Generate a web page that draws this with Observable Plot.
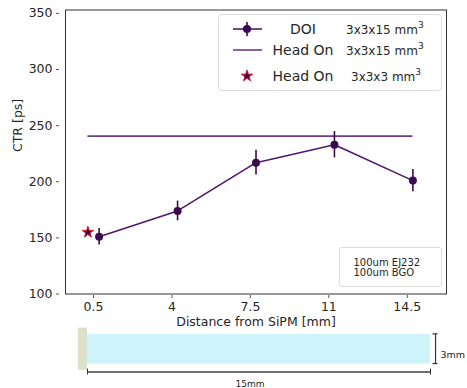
<!DOCTYPE html>
<html><head><meta charset="utf-8">
<script src="https://cdn.jsdelivr.net/npm/d3@7"></script>
<script src="https://cdn.jsdelivr.net/npm/@observablehq/plot@0.6"></script>
<style>
body{margin:0;background:#fff;font-family:"DejaVu Sans",sans-serif;color:#262626;}
#wrap{position:relative;width:467px;height:388px;overflow:hidden;}
#wrap svg.plt{position:absolute;left:0;overflow:visible;}
.lg{position:absolute;box-sizing:border-box;border:1px solid #dcdcdc;border-radius:4px;background:rgba(255,255,255,0.85);}
.abs{position:absolute;white-space:nowrap;transform:translateY(-50%);}
sup{font-size:9px;vertical-align:6px;line-height:0;}
</style></head><body><div id="wrap"></div>
<script>
// ---- data ----
const distance = [0.75, 4.25, 7.75, 11.25, 14.75];
const ctrDOI = [151, 174, 217, 233, 201];
const ctrErr = [7.3, 8.8, 11, 11.7, 10];
const headOnLongX = [0.25, 14.75];
const headOnLongCTR = [240.6];
const headOnShortX = [0.25];
const headOnShortCTR = [155];
const xTicks = [0.5, 4, 7.5, 11, 14.5];
const xTickLabels = ["0.5", "4", "7.5", "11", "14.5"];
const yTicks = [100, 150, 200, 250, 300, 350];
const legendLabels = ["DOI", "Head On", "Head On"];
const legendSizes = ["3x3x15 mm", "3x3x15 mm", "3x3x3 mm"];
const noteLines = ["100um EJ232", "100um BGO"];
const crystalLength = [15];   // mm
const crystalWidth = [3];     // mm
const sipmSize = [0.4, 4.27]; // mm (thickness, height)
const dimLabels = ["15mm", "3mm"];

const cDOIline = "#51176a", cDOIdot = "#3a0a4f", cHead = "#6e3b88", cStar = "#e3101f";

const wrap = document.getElementById("wrap");
const doi = distance.map((d, i) => ({x: d, y: ctrDOI[i], e: ctrErr[i]}));
const head = [{x1: headOnLongX[0], x2: headOnLongX[1], y: headOnLongCTR[0]}];
const star = headOnShortX.map((d, i) => ({x: d, y: headOnShortCTR[i]}));

const main = Plot.plot({
  width: 467, height: 335,
  marginLeft: 65, marginRight: 21, marginTop: 9.5, marginBottom: 41.5,
  style: {fontFamily: "DejaVu Sans", fontSize: "12px", background: "transparent", color: "#262626"},
  x: {domain: [-0.75, 16.25]},
  y: {domain: [100, 353]},
  marks: [
    Plot.axisY({ticks: yTicks, tickSize: 3, tickPadding: 4, dx: -6, label: null, stroke: "#555", fill: "#262626", fontSize: 12.5}),
    Plot.axisX({ticks: xTicks, tickFormat: d => xTickLabels[xTicks.indexOf(d)], tickSize: 3, tickPadding: 4, dy: 1.5, label: null, stroke: "#555", fill: "#262626", fontSize: 12.5}),
    Plot.ruleY(head, {x1: "x1", x2: "x2", y: "y", stroke: cHead, strokeWidth: 1.6}),
    Plot.line(doi, {x: "x", y: "y", stroke: cDOIline, strokeWidth: 1.6}),
    Plot.ruleX(doi, {x: "x", y1: d => d.y - d.e, y2: d => d.y + d.e, stroke: cDOIdot, strokeWidth: 1.6}),
    Plot.dot(doi, {x: "x", y: "y", r: 4, fill: cDOIdot}),
    Plot.dot(star, {x: "x", y: "y", symbol: "star", r: 3.6, fill: cDOIdot, stroke: cStar, strokeWidth: 0.9}),
    Plot.frame({stroke: "#333", strokeWidth: 1}),
    Plot.text(["Distance from SiPM [mm]"], {frameAnchor: "bottom", dy: 31.5, fontSize: 12.5, fill: "#262626"}),
    Plot.text(["CTR [ps]"], {frameAnchor: "left", dx: -48, rotate: -90, fontSize: 12.5, fill: "#262626"})
  ]
});
main.classList.add("plt");
main.style.top = "0px";
wrap.appendChild(main);

// ---- schematic ----
const L = crystalLength[0], W = crystalWidth[0];
const sipm = [{x1: -sipmSize[0], x2: 0, y1: -sipmSize[1] / 2, y2: sipmSize[1] / 2}];
const crystal = [{x1: 0, x2: L, y1: -W / 2, y2: W / 2}];
const dimY = -sipmSize[1] / 2 - 0.17;
const brX = L + 0.22;
const schem = Plot.plot({
  width: 467, height: 68,
  marginLeft: 87, marginRight: 37, marginTop: 0, marginBottom: 0,
  style: {fontFamily: "DejaVu Sans", background: "transparent", color: "#262626"},
  x: {domain: [0, L], axis: null},
  y: {domain: [-3.97, 2.9], axis: null},
  marks: [
    Plot.rect(sipm, {x1: "x1", x2: "x2", y1: "y1", y2: "y2", fill: "#dcdfcb"}),
    Plot.rect(crystal, {x1: "x1", x2: "x2", y1: "y1", y2: "y2", fill: "#cff3fb"}),
    Plot.ruleY([dimY], {x1: 0, x2: L, stroke: "#6e6e6e", strokeWidth: 2}),
    Plot.ruleX([0, L], {y1: dimY - 0.3, y2: dimY + 0.3, stroke: "#333", strokeWidth: 1}),
    Plot.ruleX([brX], {y1: -W / 2, y2: W / 2, stroke: "#333", strokeWidth: 1.2}),
    Plot.text([dimLabels[0]], {x: L / 2, y: -3.5, dx: -9, fontSize: 9, fill: "#262626"}),
    Plot.text([dimLabels[1]], {x: brX, y: -0.55, dx: 5, textAnchor: "start", fontSize: 9.5, fill: "#262626"})
  ]
});
schem.classList.add("plt");
schem.style.top = "320px";
wrap.appendChild(schem);

// bracket caps (small horizontal ends)
{
  const xs = schem.scale("x"), ys = schem.scale("y");
  const ns = "http://www.w3.org/2000/svg";
  for (const v of [-W / 2, W / 2]) {
    const l = document.createElementNS(ns, "line");
    const px = xs.apply(brX), py = ys.apply(v);
    l.setAttribute("x1", px - 2.5); l.setAttribute("x2", px + 2.5);
    l.setAttribute("y1", py); l.setAttribute("y2", py);
    l.setAttribute("stroke", "#333"); l.setAttribute("stroke-width", 1.2);
    schem.appendChild(l);
  }
}

// ---- legend ----
const lg = document.createElement("div");
lg.className = "lg";
Object.assign(lg.style, {left: "218px", top: "14px", width: "224px", height: "77px"});
wrap.appendChild(lg);
const rowY = [14.3, 35.3, 61];
const sizeX = [127, 127, 132];
const glyphs = [
  `<line x1="0" x2="29" y1="8" y2="8" stroke="${cDOIline}" stroke-width="1.6"/><line x1="14" x2="14" y1="1" y2="15" stroke="${cDOIdot}" stroke-width="1.6"/><circle cx="14" cy="8" r="4" fill="${cDOIdot}"/>`,
  `<line x1="0" x2="29" y1="8" y2="8" stroke="${cHead}" stroke-width="1.6"/>`,
  `<path transform="translate(14,8)" d="${d3.symbol(d3.symbolStar, 3.6 * 3.6 * Math.PI)()}" fill="${cDOIdot}" stroke="${cStar}" stroke-width="0.9"/>`
];
legendLabels.forEach((lab, i) => {
  const g = document.createElement("div");
  g.className = "abs";
  Object.assign(g.style, {left: "14px", top: rowY[i] + "px", width: "30px", height: "16px"});
  g.innerHTML = `<svg width="30" height="16" style="display:block;overflow:visible">${glyphs[i]}</svg>`;
  lg.appendChild(g);
  const t = document.createElement("div");
  t.className = "abs";
  Object.assign(t.style, {left: "49px", width: "70px", textAlign: "center", top: rowY[i] + "px", fontSize: "14px", lineHeight: "16px"});
  t.textContent = lab;
  lg.appendChild(t);
  const s = document.createElement("div");
  s.className = "abs";
  Object.assign(s.style, {left: sizeX[i] + "px", top: (rowY[i] + 0.5) + "px", fontSize: "12px", lineHeight: "16px"});
  s.innerHTML = `${legendSizes[i]}<sup>3</sup>`;
  lg.appendChild(s);
});

// ---- note box ----
const nb = document.createElement("div");
nb.className = "lg";
Object.assign(nb.style, {left: "339px", top: "247px", width: "103px", height: "40px", borderRadius: "3px"});
wrap.appendChild(nb);
noteLines.forEach((txt, i) => {
  const t = document.createElement("div");
  t.className = "abs";
  Object.assign(t.style, {left: "13.5px", top: (15 + 10 * i) + "px", fontSize: "10px", lineHeight: "10px"});
  t.textContent = txt;
  nb.appendChild(t);
});
</script></body></html>
